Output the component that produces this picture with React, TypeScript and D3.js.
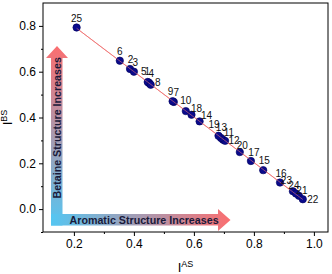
import React, { useEffect, useRef } from 'react';
import * as d3 from 'd3';

// sample numbers and the two intensity ratios
const sampleIds = [1, 2, 3, 4, 5, 6, 7, 8, 9, 10, 11, 12, 13, 14, 15, 16, 17, 18, 19, 20, 21, 22, 23, 24, 25];
const iAS = [0.449, 0.387, 0.400, 0.452, 0.446, 0.353, 0.533, 0.456, 0.529, 0.573, 0.697, 0.704, 0.690,
  0.619, 0.831, 0.887, 0.790, 0.592, 0.682, 0.753, 0.950, 0.963, 0.930, 0.940, 0.209];
const iBS = [0.553, 0.612, 0.600, 0.549, 0.555, 0.648, 0.468, 0.543, 0.471, 0.428, 0.303, 0.298, 0.311,
  0.383, 0.170, 0.116, 0.210, 0.412, 0.320, 0.249, 0.058, 0.043, 0.078, 0.068, 0.793];

const xTicks = [0.2, 0.4, 0.6, 0.8, 1.0];
const xMinor = [0.3, 0.5, 0.7, 0.9];
const yTicks = [0.0, 0.2, 0.4, 0.6, 0.8];
const yMinor = [-0.1, 0.1, 0.3, 0.5, 0.7];

// label nudges (dx, dy) so the crowded numbers sit like the original
const labelOffset: Record<number, [number, number]> = {
  1: [-1.3, -7], 2: [0.5, -6.3], 3: [1.5, -6], 4: [1.8, -6.7], 5: [-4, -7], 6: [0, -6],
  7: [2.5, -6], 8: [7, 1], 9: [-2, -6], 10: [0, -7], 11: [6, -4], 12: [9, 3], 13: [0.5, -7],
  14: [7, -2], 15: [1, -6], 16: [1, -6], 17: [3, -5], 18: [5, -3], 19: [-4.5, -7.5],
  20: [2.5, -3.5], 21: [3, -1.5], 22: [10, 4], 23: [-6.5, -7], 24: [-2, -5], 25: [0, -6],
};

const FONT = 'Arial, "Liberation Sans", sans-serif';

function Chart() {
  const ref = useRef<SVGSVGElement>(null);

  useEffect(() => {
    const width = 332;
    const height = 274;
    const margin = { top: 3, right: 4, bottom: 42, left: 43 };

    const svg = d3.select(ref.current);
    svg.selectAll('*').remove();

    const x = d3.scaleLinear().domain([0.097, 1.047]).range([margin.left, width - margin.right]);
    const y = d3.scaleLinear().domain([-0.1, 0.9]).range([height - margin.bottom, margin.top]);

    const data = sampleIds.map((id, i) => ({ id, x: iAS[i], y: iBS[i] }));

    // gradients for the two arrows
    const defs = svg.append('defs');
    const gv = defs.append('linearGradient').attr('id', 'gv')
      .attr('gradientUnits', 'userSpaceOnUse')
      .attr('x1', 0).attr('x2', 0).attr('y1', 226).attr('y2', 46);
    gv.append('stop').attr('offset', '0%').attr('stop-color', '#55c6f2');
    gv.append('stop').attr('offset', '100%').attr('stop-color', '#fb6e70');
    const gh = defs.append('linearGradient').attr('id', 'gh')
      .attr('gradientUnits', 'userSpaceOnUse')
      .attr('x1', 51).attr('x2', 231).attr('y1', 0).attr('y2', 0);
    gh.append('stop').attr('offset', '0%').attr('stop-color', '#55c6f2');
    gh.append('stop').attr('offset', '100%').attr('stop-color', '#fb6e70');

    // frame
    svg.append('rect')
      .attr('x', margin.left).attr('y', margin.top)
      .attr('width', width - margin.left - margin.right)
      .attr('height', height - margin.top - margin.bottom)
      .attr('fill', 'none').attr('stroke', '#000').attr('stroke-width', 1);

    svg.append('g')
      .attr('transform', `translate(0,${height - margin.bottom})`)
      .call(d3.axisBottom(x).tickValues(xTicks).tickSize(4).tickPadding(3).tickFormat(d3.format('.1f')))
      .call(g => g.select('.domain').remove());
    svg.append('g')
      .attr('transform', `translate(0,${height - margin.bottom})`)
      .call(d3.axisBottom(x).tickValues(xMinor).tickSize(2).tickFormat(() => ''))
      .call(g => g.select('.domain').remove());

    svg.append('g')
      .attr('transform', `translate(${margin.left},0)`)
      .call(d3.axisLeft(y).tickValues(yTicks).tickSize(4).tickPadding(3).tickFormat(d3.format('.1f')))
      .call(g => g.select('.domain').remove());
    svg.append('g')
      .attr('transform', `translate(${margin.left},0)`)
      .call(d3.axisLeft(y).tickValues(yMinor).tickSize(2).tickFormat(() => ''))
      .call(g => g.select('.domain').remove());

    svg.selectAll('.tick text').attr('font-family', FONT).attr('font-size', 12).attr('fill', '#000');
    svg.selectAll('.tick line').attr('stroke', '#000');

    // axis titles
    const xt = svg.append('text')
      .attr('x', (margin.left + width - margin.right) / 2).attr('y', 271.5)
      .attr('text-anchor', 'middle').attr('font-family', FONT).attr('font-size', 13);
    xt.append('tspan').text('I');
    xt.append('tspan').attr('font-size', 9).attr('dy', -5).text('AS');

    const yt = svg.append('text')
      .attr('transform', `translate(12,${(margin.top + height - margin.bottom) / 2}) rotate(-90)`)
      .attr('text-anchor', 'middle').attr('font-family', FONT).attr('font-size', 13);
    yt.append('tspan').text('I');
    yt.append('tspan').attr('font-size', 9).attr('dy', -5).text('BS');

    // arrows
    svg.append('path')
      .attr('d', 'M51,225.5 L51,58 L46,58 L57,46 L68,58 L62.5,58 L62.5,225.5 Z')
      .attr('fill', 'url(#gv)');
    svg.append('path')
      .attr('d', 'M51,214 L218,214 L218,209 L230.5,220 L218,231 L218,225.5 L51,225.5 Z')
      .attr('fill', 'url(#gh)');

    svg.append('text')
      .attr('transform', 'translate(61.3,198.5) rotate(-90)')
      .attr('font-family', FONT).attr('font-size', 10.7).attr('font-weight', 'bold')
      .attr('fill', '#1a1a3a')
      .text('Betaine Structure Increases');
    svg.append('text')
      .attr('x', 69.5).attr('y', 223.7)
      .attr('font-family', FONT).attr('font-size', 10.7).attr('font-weight', 'bold')
      .attr('fill', '#1a1a3a')
      .text('Aromatic Structure Increases');

    // least-squares line through the samples
    const mx = d3.mean(data, d => d.x) as number;
    const my = d3.mean(data, d => d.y) as number;
    const slope = d3.sum(data, d => (d.x - mx) * (d.y - my)) / d3.sum(data, d => (d.x - mx) ** 2);
    const [x0, x1] = d3.extent(data, d => d.x) as [number, number];
    const line = d3.line<number>().x(v => x(v)).y(v => y(my + slope * (v - mx)));
    svg.append('path')
      .datum([x0, x1])
      .attr('fill', 'none')
      .attr('stroke', '#f07878')
      .attr('stroke-width', 1)
      .attr('d', line);

    svg.append('g')
      .selectAll('circle')
      .data(data)
      .enter()
      .append('circle')
      .attr('cx', d => x(d.x))
      .attr('cy', d => y(d.y))
      .attr('r', 3.7)
      .attr('fill', '#0a0a8c')
      .attr('stroke', '#00005a')
      .attr('stroke-width', 0.6);

    // line shows faintly over the dots in the original
    svg.append('path')
      .datum([x0, x1])
      .attr('fill', 'none')
      .attr('stroke', '#f07878')
      .attr('stroke-width', 0.8)
      .attr('opacity', 0.7)
      .attr('d', line);

    svg.append('g')
      .selectAll('text')
      .data(data)
      .enter()
      .append('text')
      .attr('x', d => x(d.x) + labelOffset[d.id][0])
      .attr('y', d => y(d.y) + labelOffset[d.id][1])
      .attr('text-anchor', 'middle')
      .attr('font-family', FONT)
      .attr('font-size', 10)
      .attr('fill', '#111')
      .text(d => d.id);
  }, []);

  return <svg ref={ref} width={332} height={274}
    style={{ position: 'absolute', left: 0, top: 0, background: '#fff' }} />;
}

export default function App() {
  return <Chart />;
}
